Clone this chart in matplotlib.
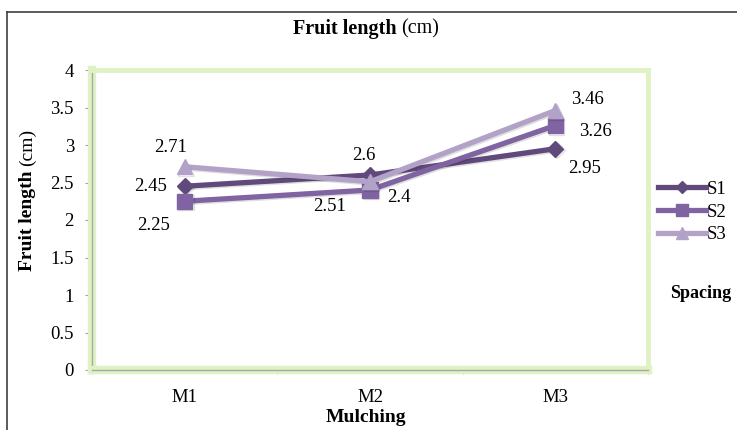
import matplotlib
matplotlib.use("Agg")
import matplotlib.pyplot as plt
from matplotlib.lines import Line2D
import matplotlib.patheffects as pe

categories = ["M1", "M2", "M3"]
s1 = [2.45, 2.6, 2.95]
s2 = [2.25, 2.4, 3.26]
s3 = [2.71, 2.51, 3.46]
series_names = ["S1", "S2", "S3"]
yticks = [0, 0.5, 1, 1.5, 2, 2.5, 3, 3.5, 4]
ytick_labels = ["0", "0.5", "1", "1.5", "2", "2.5", "3", "3.5", "4"]

plt.rcParams['font.family'] = ['Liberation Serif', 'DejaVu Serif']

W, H = 737, 430
fig = plt.figure(figsize=(W / 100, H / 100), dpi=100)

def fx(px):
    return px / W

def fy(py):
    return 1 - py / H

ax = fig.add_axes([fx(92), fy(370), fx(648) - fx(92), fy(70) - fy(370)])

colors = ["#604a7b", "#8064a2", "#b3a2c7"]
markers = ["D", "s", "^"]
msizes = [8, 11, 11]
x = list(range(len(categories)))
data = [s1, s2, s3]
for vals, c, m, ms, name in zip(data, colors, markers, msizes, series_names):
    ax.plot(x, vals, color=c, lw=3.8, marker=m, markersize=ms,
            markerfacecolor=c, markeredgecolor=c, label=name,
            path_effects=[pe.SimpleLineShadow(offset=(1, -1), alpha=0.12), pe.Normal()])

# data label offsets in pixels (dx right, dy up)
offsets = {
    (0, 0): (-34, 0), (0, 1): (-6, 19), (0, 2): (29, -20),
    (1, 0): (-31, -24), (1, 1): (29, -7), (1, 2): (40, -6),
    (2, 0): (-14, 19), (2, 1): (-40, -25), (2, 2): (32, 11),
}
for si, vals in enumerate(data):
    for ci, v in enumerate(vals):
        dx, dy = offsets[(si, ci)]
        ax.annotate(f"{v:g}", (ci, v), xytext=(dx, dy), textcoords="offset pixels",
                    ha="center", va="center", fontsize=13.5, color="black")

ax.set_xlim(-0.5, 2.5)
ax.set_ylim(0, 4)
ax.set_yticks(yticks)
ax.set_yticklabels(ytick_labels, fontsize=13.5)
ax.set_xticks(x)
ax.set_xticklabels(categories, fontsize=13.5)
ax.tick_params(axis='x', length=0, pad=14)
ax.set_xticks([-0.5, 0.5, 1.5, 2.5], minor=True)
ax.tick_params(axis='x', which='minor', length=6, color='#a0a0a0', direction='inout')
ax.tick_params(axis='y', length=5, color='#a0a0a0', pad=8, direction='out')

for side in ['top', 'right']:
    ax.spines[side].set_color('#dff2c4')
    ax.spines[side].set_linewidth(3.5)
for side in ['left', 'bottom']:
    ax.spines[side].set_color('#a8a8a8')
    ax.spines[side].set_linewidth(1.0)
    ax.spines[side].set_path_effects([pe.Stroke(linewidth=6, foreground='#dff2c4'), pe.Normal()])

# figure frame lines
fig.add_artist(Line2D([fx(7), 1], [fy(12), fy(12)], color='#404040', lw=1.2))
fig.add_artist(Line2D([fx(7), fx(7)], [0, fy(12)], color='#404040', lw=1.2))

fig.canvas.draw()
renderer = fig.canvas.get_renderer()

# title with mixed weight, centered at x=366
ta = fig.text(0, fy(29), "Fruit length ", ha="left", va="center", fontsize=14.5, fontweight="bold")
tb = fig.text(0, fy(29), "(cm)", ha="left", va="center", fontsize=14.5)
wa = ta.get_window_extent(renderer).width
wb = tb.get_window_extent(renderer).width
x0 = 366 - (wa + wb) / 2
ta.set_x(fx(x0))
tb.set_x(fx(x0 + wa))

# y label, rotated, centered at y=200
ya = fig.text(fx(27), 0, "Fruit length ", rotation=90, ha="center", va="bottom", fontsize=14, fontweight="bold")
yb = fig.text(fx(27), 0, "(cm)", rotation=90, ha="center", va="bottom", fontsize=14)
ha_ = ya.get_window_extent(renderer).height
hb_ = yb.get_window_extent(renderer).height
ybot = 200 + (ha_ + hb_) / 2  # pixel from top
ya.set_y(fy(ybot))
yb.set_y(fy(ybot - ha_))

# x label
fig.text(fx(366), fy(417), "Mulching", ha="center", va="center", fontsize=14, fontweight="bold")

# legend
handles = [Line2D([0], [0], color=c, lw=3.8, marker=m, markersize=ms * 0.8,
                  markerfacecolor=c, markeredgecolor=c)
           for c, m, ms in zip(colors, markers, msizes)]
fig.legend(handles, series_names, loc="center left", bbox_to_anchor=(fx(650), fy(212)),
           frameon=False, fontsize=13.5, handlelength=2.6, handletextpad=0.05,
           labelspacing=0.3, borderaxespad=0)
fig.text(fx(670), fy(293), "Spacing", ha="left", va="center", fontsize=13, fontweight="bold")

fig.savefig("out.png", dpi=100)
